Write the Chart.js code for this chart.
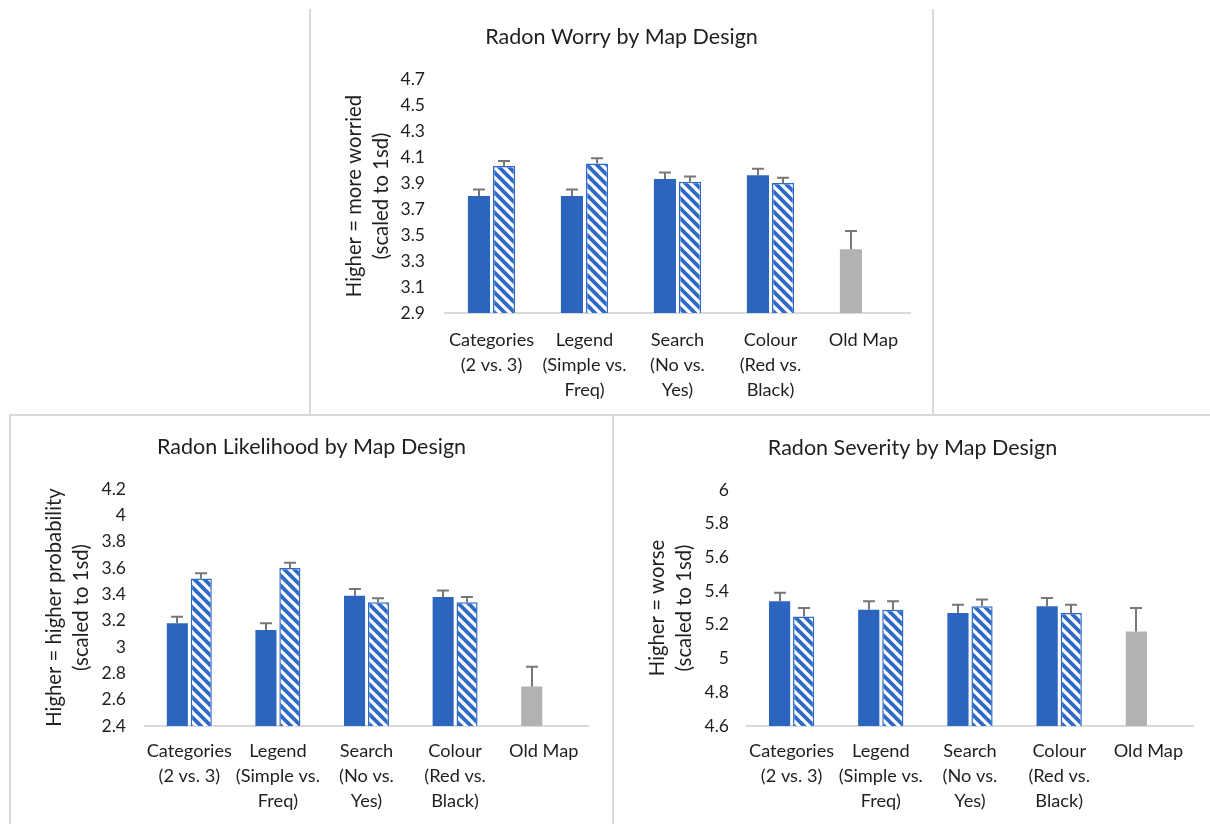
<!DOCTYPE html>
<html><head><meta charset="utf-8">
<script src="https://cdn.jsdelivr.net/npm/chart.js@4.4.0/dist/chart.umd.min.js"></script>
<style>
html,body{margin:0;padding:0;background:#fff;width:1210px;height:824px;overflow:hidden;}
.wrap{position:absolute;}
.line{position:absolute;background:#d9d9d9;}
</style></head><body>
<div class="line" style="left:309px;top:9px;width:2px;height:406px"></div>
<div class="line" style="left:932px;top:9px;width:2px;height:406px"></div>
<div class="line" style="left:9px;top:414px;width:1201px;height:2px"></div>
<div class="line" style="left:9px;top:414px;width:2px;height:410px"></div>
<div class="line" style="left:612px;top:414px;width:2px;height:410px"></div>
<div class="wrap" style="left:312px;top:10px;width:619px;height:402px"><canvas id="c1"></canvas></div>
<div class="wrap" style="left:12px;top:417px;width:599px;height:407px"><canvas id="c2"></canvas></div>
<div class="wrap" style="left:615px;top:417px;width:595px;height:407px"><canvas id="c3"></canvas></div>
<script>
// ---- data ----
const categories = [['Categories','(2 vs. 3)'],['Legend','(Simple vs.','Freq)'],['Search','(No vs.','Yes)'],['Colour','(Red vs.','Black)'],['Old Map']];

const worryFirst     = [3.80, 3.80, 3.93, 3.96, 3.39];
const worrySecond    = [4.03, 4.05, 3.91, 3.90, null];
const worryFirstErr  = [0.05, 0.05, 0.05, 0.05, 0.14];
const worrySecondErr = [0.04, 0.04, 0.04, 0.04, null];
const worryTicks     = [2.9, 3.1, 3.3, 3.5, 3.7, 3.9, 4.1, 4.3, 4.5, 4.7];

const likFirst       = [3.18, 3.13, 3.39, 3.38, 2.70];
const likSecond      = [3.52, 3.60, 3.34, 3.34, null];
const likFirstErr    = [0.05, 0.05, 0.05, 0.05, 0.15];
const likSecondErr   = [0.04, 0.04, 0.03, 0.04, null];
const likTicks       = [2.4, 2.6, 2.8, 3.0, 3.2, 3.4, 3.6, 3.8, 4.0, 4.2];

const sevFirst       = [5.34, 5.29, 5.27, 5.31, 5.16];
const sevSecond      = [5.25, 5.29, 5.31, 5.27, null];
const sevFirstErr    = [0.05, 0.05, 0.05, 0.05, 0.14];
const sevSecondErr   = [0.05, 0.05, 0.04, 0.05, null];
const sevTicks       = [4.6, 4.8, 5.0, 5.2, 5.4, 5.6, 5.8, 6.0];

// ---- style ----
const solidBlue = '#2c65be';
const hatchBlue = '#2f6bc6';
const oldGray = '#b2b2b2';
const errColor = '#777777';
const textColor = '#1f1f1f';
const FONT = 'Lato, "Open Sans", sans-serif';

function hatchPattern(ctx) {
  const s = 10;
  const c = document.createElement('canvas'); c.width = s; c.height = s;
  const g = c.getContext('2d');
  g.fillStyle = '#ffffff'; g.fillRect(0, 0, s, s);
  g.strokeStyle = hatchBlue; g.lineWidth = 3.8;
  g.beginPath();
  g.moveTo(-3, -3); g.lineTo(s + 3, s + 3);
  g.moveTo(-3, s - 3); g.lineTo(3, s + 3);
  g.moveTo(s - 3, -3); g.lineTo(s + 3, 3);
  g.stroke();
  return ctx.createPattern(c, 'repeat');
}

const errorBars = {
  id: 'errorBars',
  afterDatasetsDraw(chart) {
    const {ctx} = chart;
    const y = chart.scales.y;
    ctx.save();
    ctx.strokeStyle = errColor;
    ctx.lineWidth = 2;
    chart.data.datasets.forEach((ds, di) => {
      const meta = chart.getDatasetMeta(di);
      meta.data.forEach((bar, i) => {
        const v = ds.data[i], e = ds.errors[i];
        if (v == null || e == null) return;
        const yTop = y.getPixelForValue(v + e);
        const x = Math.round(bar.x);
        ctx.beginPath();
        ctx.moveTo(x, bar.y); ctx.lineTo(x, yTop);
        ctx.moveTo(x - 6, yTop); ctx.lineTo(x + 6, yTop);
        ctx.stroke();
      });
    });
    ctx.restore();
  }
};

function makeChart(id, o) {
  const canvas = document.getElementById(id);
  const ctx = canvas.getContext('2d');
  const firstColors = o.first.map((v, i) => i === o.first.length - 1 ? oldGray : solidBlue);
  return new Chart(ctx, {
    type: 'bar',
    data: {
      labels: categories,
      datasets: [
        {data: o.first, errors: o.firstErr, backgroundColor: firstColors, borderWidth: 0,
         categoryPercentage: 0.54, barPercentage: 0.88},
        {data: o.second, errors: o.secondErr, backgroundColor: hatchPattern(ctx), borderColor: hatchBlue,
         borderWidth: 1.5, categoryPercentage: 0.54, barPercentage: 0.88}
      ]
    },
    plugins: [errorBars],
    options: {
      responsive: true, maintainAspectRatio: false, animation: false,
      events: [],
      layout: {padding: {left: o.side, right: o.side, top: 0, bottom: 0}},
      plugins: {
        legend: {display: false},
        tooltip: {enabled: false},
        title: {display: true, text: o.title, color: textColor,
                font: {family: FONT, size: 21.5, weight: 'normal', lineHeight: '24px'},
                padding: {top: o.titleTop, bottom: o.titleBottom}}
      },
      scales: {
        x: {
          grid: {display: false, drawTicks: false},
          border: {display: true, color: '#d9d9d9', width: 2},
          ticks: {color: textColor, font: {family: FONT, size: 18.2, lineHeight: '25px'},
                  padding: o.xPad, maxRotation: 0, autoSkip: false},
          afterFit(s) { s.height = o.xH; }
        },
        y: {
          min: o.ticks[0], max: o.ticks[o.ticks.length - 1],
          afterBuildTicks(s) { s.ticks = o.ticks.map(v => ({value: v})); },
          grid: {display: false, drawTicks: false},
          border: {display: false},
          ticks: {color: textColor, font: {family: FONT, size: 17.5}, padding: o.yPad,
                  callback: v => String(Math.round(v * 10) / 10)},
          title: {display: true, text: o.yTitle, color: textColor,
                  font: {family: FONT, size: 20.3, lineHeight: '27px'},
                  padding: {top: o.yTitlePad, bottom: 0}},
          afterFit(s) { s.width = o.yW; }
        }
      }
    }
  });
}

makeChart('c1', {
  title: 'Radon Worry by Map Design', yTitle: ['Higher = more worried', '(scaled to 1sd)'],
  first: worryFirst, second: worrySecond, firstErr: worryFirstErr, secondErr: worrySecondErr,
  ticks: worryTicks, side: 21, titleTop: 15, titleBottom: 30, xH: 99, xPad: 15, yW: 112, yPad: 20, yTitlePad: 7.5
});
makeChart('c2', {
  title: 'Radon Likelihood by Map Design', yTitle: ['Higher = higher probability', '(scaled to 1sd)'],
  first: likFirst, second: likSecond, firstErr: likFirstErr, secondErr: likSecondErr,
  ticks: likTicks, side: 23, titleTop: 18, titleBottom: 30, xH: 98, xPad: 13, yW: 110, yPad: 19, yTitlePad: 6
});
makeChart('c3', {
  title: 'Radon Severity by Map Design', yTitle: ['Higher = worse', '(scaled to 1sd)'],
  first: sevFirst, second: sevSecond, firstErr: sevFirstErr, secondErr: sevSecondErr,
  ticks: sevTicks, side: 17, titleTop: 19, titleBottom: 30, xH: 98, xPad: 13, yW: 115, yPad: 18, yTitlePad: 11.5
});
</script>
</body></html>
